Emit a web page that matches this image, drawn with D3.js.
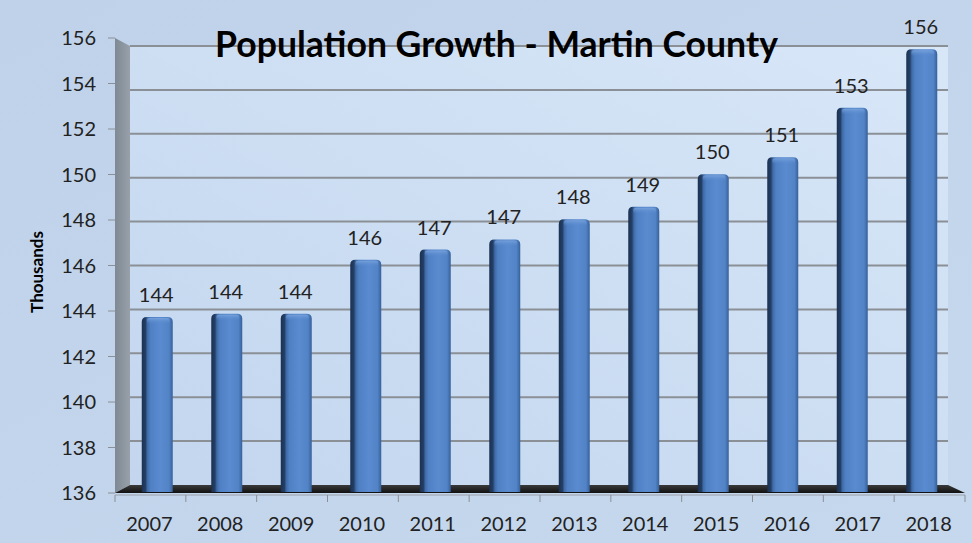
<!DOCTYPE html>
<html>
<head>
<meta charset="utf-8">
<script src="https://cdn.jsdelivr.net/npm/d3@7"></script>
<style>
  html, body { margin: 0; padding: 0; background: #c3d5eb; }
  svg { display: block; }
  text { font-family: Lato, "Open Sans", sans-serif; }
</style>
</head>
<body>
<svg id="chart" width="972" height="543"></svg>
<script>
// ---- data ----
const years = ["2007","2008","2009","2010","2011","2012","2013","2014","2015","2016","2017","2018"];
const population = [143.6, 143.75, 143.75, 146.15, 146.6, 147.05, 147.95, 148.5, 149.95, 150.7, 152.9, 155.5];
const valueLabels = ["144","144","144","146","147","147","148","149","150","151","153","156"];
const yTicks = [136, 138, 140, 142, 144, 146, 148, 150, 152, 154, 156];
const chartTitle = "Population Growth - Martin County";
const yAxisTitle = "Thousands";

// ---- layout ----
const W = 972, H = 543;
const svg = d3.select("#chart");
const defs = svg.append("defs");

const frontLeft = 115, frontRight = 965;
const backLeft = 130, backRight = 948;
const yFront = d3.scaleLinear().domain([136, 156]).range([493, 38]);
const yBack = d3.scaleLinear().domain([136, 156]).range([485, 46]);
const yBar = d3.scaleLinear().domain([136, 156]).range([488, 38]);

const xFront = d3.scaleBand().domain(years).range([frontLeft, frontRight]).padding(0);
const xBar = d3.scaleBand().domain(years).range([122.5, 956.5]).padding(0);
const barW = 31;
const fs = 20;

// background
const bg = defs.append("linearGradient").attr("id", "bg").attr("x1", 0).attr("y1", 0).attr("x2", 1).attr("y2", 1);
bg.append("stop").attr("offset", "0%").attr("stop-color", "#bfd2ea");
bg.append("stop").attr("offset", "100%").attr("stop-color", "#c6d8ed");
svg.append("rect").attr("width", W).attr("height", H).attr("fill", "url(#bg)");

// back wall
const wall = defs.append("linearGradient").attr("id", "wall").attr("x1", 0).attr("y1", 1).attr("x2", 1).attr("y2", 0);
wall.append("stop").attr("offset", "0%").attr("stop-color", "#c3d6ee");
wall.append("stop").attr("offset", "60%").attr("stop-color", "#cfe0f4");
wall.append("stop").attr("offset", "100%").attr("stop-color", "#d8e7f8");
svg.append("rect")
  .attr("x", backLeft).attr("y", yBack(156))
  .attr("width", backRight - backLeft).attr("height", yBack(136) - yBack(156))
  .attr("fill", "url(#wall)");

// gridlines
svg.append("g").selectAll("line").data(yTicks.filter(t => t > 136)).join("line")
  .attr("x1", backLeft).attr("x2", backRight)
  .attr("y1", d => yBack(d)).attr("y2", d => yBack(d))
  .attr("stroke", "#8b8f96").attr("stroke-width", 2);

// left side wall
const lw = defs.append("linearGradient").attr("id", "lwall").attr("x1", 0).attr("y1", 0).attr("x2", 1).attr("y2", 0);
lw.append("stop").attr("offset", "0%").attr("stop-color", "#7f8993");
lw.append("stop").attr("offset", "100%").attr("stop-color", "#98a1aa");
svg.append("path")
  .attr("d", `M${frontLeft},${yFront(156)} L${backLeft},${yBack(156)} L${backLeft},${yBack(136)} L${frontLeft},${yFront(136)} Z`)
  .attr("fill", "url(#lwall)");

// floor
const fl = defs.append("linearGradient").attr("id", "floor").attr("x1", 0).attr("y1", 0).attr("x2", 0).attr("y2", 1);
fl.append("stop").attr("offset", "0%").attr("stop-color", "#3a3a3a");
fl.append("stop").attr("offset", "100%").attr("stop-color", "#111");
svg.append("path")
  .attr("d", `M${frontLeft},${yFront(136)} L${backLeft},${yBack(136)} L${backRight},${yBack(136)} L${frontRight},${yFront(136)} Z`)
  .attr("fill", "url(#floor)");

// y axis ticks & labels
const yg = svg.append("g");
yg.selectAll("line").data(yTicks).join("line")
  .attr("x1", frontLeft - 7).attr("x2", frontLeft)
  .attr("y1", d => yFront(d)).attr("y2", d => yFront(d))
  .attr("stroke", "#8c9096").attr("stroke-width", 1);
yg.selectAll("text").data(yTicks).join("text")
  .attr("x", 96).attr("y", d => yFront(d)).attr("dy", "0.36em")
  .attr("text-anchor", "end").attr("font-size", fs).attr("fill", "#222")
  .text(d => d);

// x axis line, ticks, labels
const xg = svg.append("g");
const axisY = 495;
xg.append("line").attr("x1", frontLeft).attr("x2", frontRight)
  .attr("y1", axisY).attr("y2", axisY).attr("stroke", "#9aa0a8").attr("stroke-width", 1);
const tickXs = years.map(y => xFront(y)).concat([frontRight]);
xg.selectAll("line.tk").data(tickXs).join("line").attr("class", "tk")
  .attr("x1", d => d).attr("x2", d => d)
  .attr("y1", axisY).attr("y2", axisY + 7)
  .attr("stroke", "#8c9096").attr("stroke-width", 1);
xg.selectAll("text").data(years).join("text")
  .attr("x", d => xFront(d) + xFront.bandwidth() / 2 - 1)
  .attr("y", 531)
  .attr("text-anchor", "middle").attr("font-size", fs).attr("fill", "#222")
  .text(d => d);

// bars
const bg2 = defs.append("linearGradient").attr("id", "bar").attr("x1", 0).attr("y1", 0).attr("x2", 1).attr("y2", 0);
[["0%", "#1a3152"], ["12%", "#243f66"], ["18%", "#3f6aa6"], ["28%", "#4f80c4"], ["60%", "#5a8bd0"], ["88%", "#5283c6"], ["100%", "#36609a"]]
  .forEach(([o, c]) => bg2.append("stop").attr("offset", o).attr("stop-color", c));
const capG = defs.append("linearGradient").attr("id", "cap").attr("x1", 0).attr("y1", 0).attr("x2", 0).attr("y2", 1);
capG.append("stop").attr("offset", "0%").attr("stop-color", "#7aa4dc").attr("stop-opacity", 0.9);
capG.append("stop").attr("offset", "100%").attr("stop-color", "#5a8bd0").attr("stop-opacity", 0);

const bottom = yFront(136) - 1;
const r = 5;
const barData = years.map((y, i) => ({ year: y, v: population[i], label: valueLabels[i] }));
function barPath(d) {
  const x0 = xBar(d.year) + (xBar.bandwidth() - barW) / 2;
  const x1 = x0 + barW;
  const t = yBar(d.v);
  return `M${x0},${bottom} L${x0},${t + r} Q${x0},${t} ${x0 + r},${t} L${x1 - r},${t} Q${x1},${t} ${x1},${t + r} L${x1},${bottom} Z`;
}
const bars = svg.append("g");
bars.selectAll("path.b").data(barData).join("path").attr("class", "b")
  .attr("d", barPath).attr("fill", "url(#bar)");
bars.selectAll("rect.c").data(barData).join("rect").attr("class", "c")
  .attr("x", d => xBar(d.year) + (xBar.bandwidth() - barW) / 2 + 5)
  .attr("y", d => yBar(d.v) + 1)
  .attr("width", barW - 8).attr("height", 6)
  .attr("rx", 3)
  .attr("fill", "url(#cap)");

// value labels
svg.append("g").selectAll("text").data(barData).join("text")
  .attr("x", d => xBar(d.year) + xBar.bandwidth() / 2 - 1)
  .attr("y", d => yBar(d.v) - 15)
  .attr("text-anchor", "middle").attr("font-size", fs).attr("fill", "#222")
  .text(d => d.label);

// title
const title = svg.append("text")
  .attr("x", 496.5).attr("y", 57)
  .attr("text-anchor", "middle").attr("font-size", 33).attr("font-weight", "bold").attr("fill", "#000")
  .text(chartTitle);
const tl = title.node().getComputedTextLength();
title.attr("font-size", 33 * 563 / tl);

// y axis title
svg.append("text")
  .attr("transform", "translate(43,272) rotate(-90)")
  .attr("text-anchor", "middle").attr("font-size", 17).attr("font-weight", "bold").attr("fill", "#000")
  .text(yAxisTitle);
</script>
</body>
</html>
